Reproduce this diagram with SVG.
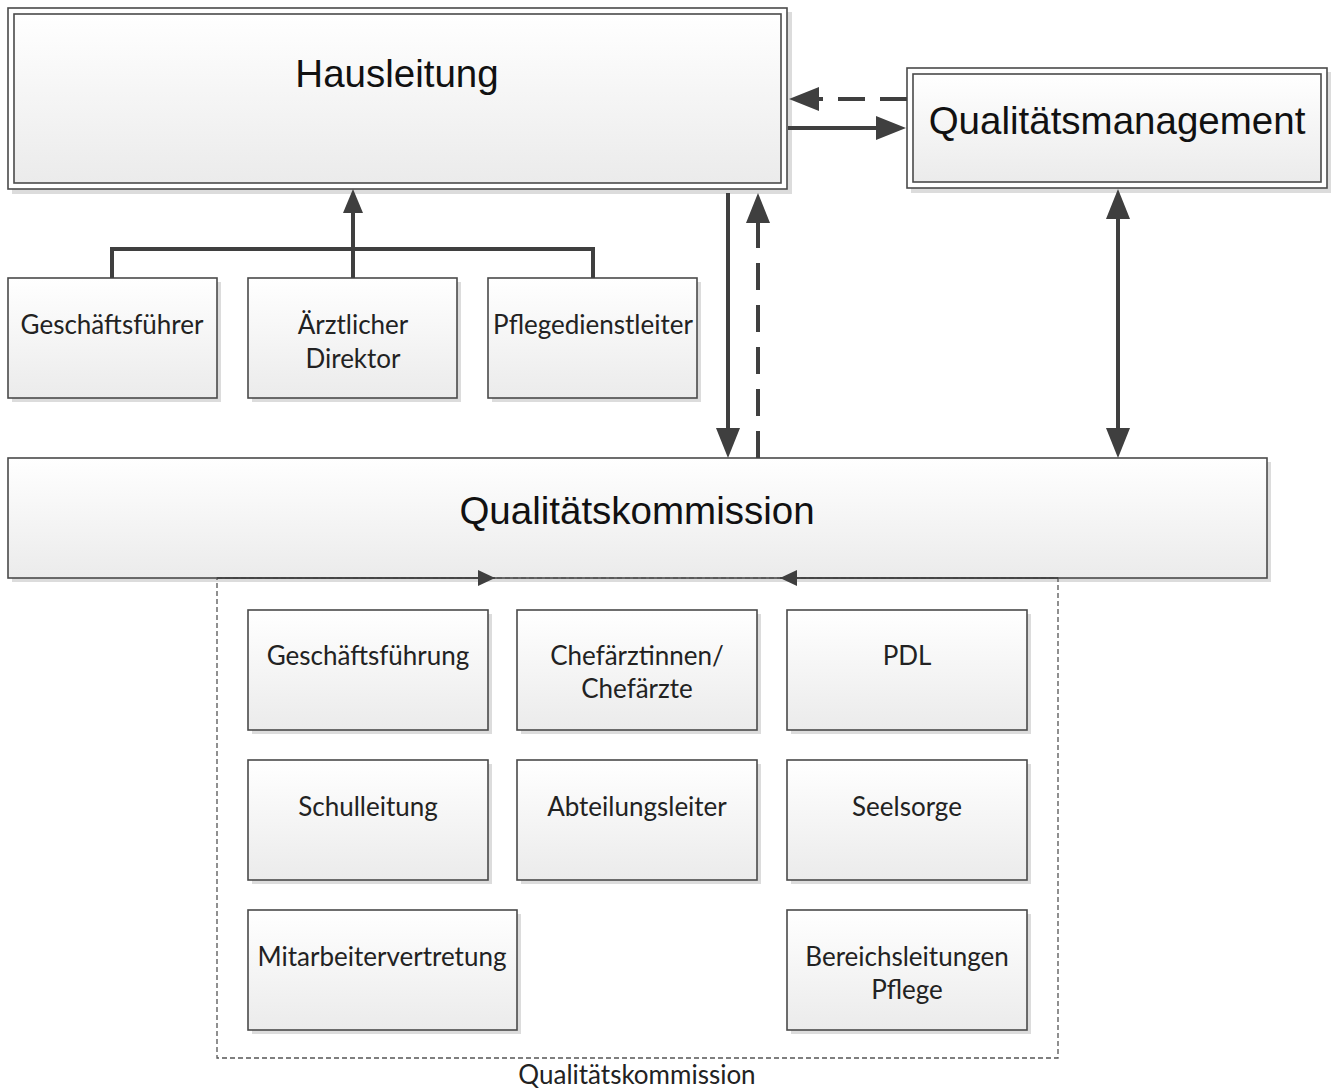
<svg xmlns="http://www.w3.org/2000/svg" width="1334" height="1091" viewBox="0 0 1334 1091">
<defs>
<linearGradient id="g" x1="0" y1="0" x2="0" y2="1">
<stop offset="0" stop-color="#ffffff"/>
<stop offset="1" stop-color="#ebebeb"/>
</linearGradient>
<marker id="ah" markerUnits="userSpaceOnUse" markerWidth="32" markerHeight="26" viewBox="0 0 32 26" refX="20" refY="13" orient="auto-start-reverse">
<path d="M0,1 L30,13 L0,25 z" fill="#3f3f3f"/>
</marker>
<marker id="ahm" markerUnits="userSpaceOnUse" markerWidth="26" markerHeight="22" viewBox="0 0 26 22" refX="14" refY="11" orient="auto">
<path d="M0,1 L24,11 L0,21 z" fill="#3f3f3f"/>
</marker>
<marker id="ahs" markerUnits="userSpaceOnUse" markerWidth="18" markerHeight="16" viewBox="0 0 18 16" refX="17" refY="8" orient="auto">
<path d="M0,0 L17,8 L0,16 z" fill="#3f3f3f"/>
</marker>
</defs>
<style>
.sh{fill:#dcdcdc;}
.bx{fill:url(#g);stroke:#4a4a4a;stroke-width:1.6;}
.out{fill:#ffffff;stroke:#4a4a4a;stroke-width:1.6;}
.big{font-family:"Liberation Sans",Arial,sans-serif;font-size:38.5px;fill:#111;text-anchor:middle;}
.sm{font-family:Lato,"Open Sans",sans-serif;font-size:26px;fill:#222;text-anchor:middle;}
.c{fill:none;stroke:#3f3f3f;stroke-width:4;}
.d{stroke-dasharray:27 15;}
.thin{fill:none;stroke:#3f3f3f;stroke-width:1.6;}
.grp{fill:none;stroke:#555;stroke-width:1.3;stroke-dasharray:5 3;}
</style>
<rect width="1334" height="1091" fill="#ffffff"/>

<g id="hausleitung">
<rect class="sh" x="12" y="12" width="780" height="182"/>
<rect class="out" x="8" y="8" width="779" height="181"/>
<rect class="bx" x="14" y="14" width="767" height="169"/>
<text class="big" x="397" y="87">Hausleitung</text>
</g>

<g id="qualitaetsmanagement">
<rect class="sh" x="911" y="72" width="420" height="121"/>
<rect class="out" x="907" y="68" width="420" height="120"/>
<rect class="bx" x="913" y="74" width="408" height="108"/>
<text class="big" x="1117" y="134">Qualitätsmanagement</text>
</g>

<g id="geschaeftsfuehrer">
<rect class="sh" x="12" y="282" width="209" height="120"/>
<rect class="bx" x="8" y="278" width="209" height="120"/>
<text class="sm" x="112" y="334">Geschäftsführer</text>
</g>
<g id="aerztlicher-direktor">
<rect class="sh" x="252" y="282" width="209" height="120"/>
<rect class="bx" x="248" y="278" width="209" height="120"/>
<text class="sm" x="353" y="334">Ärztlicher</text>
<text class="sm" x="353" y="368">Direktor</text>
</g>
<g id="pflegedienstleiter">
<rect class="sh" x="492" y="282" width="209" height="120"/>
<rect class="bx" x="488" y="278" width="209" height="120"/>
<text class="sm" x="593" y="334">Pflegedienstleiter</text>
</g>

<g id="qualitaetskommission">
<rect class="sh" x="12" y="462" width="1259" height="120"/>
<rect class="bx" x="8" y="458" width="1259" height="120"/>
<text class="big" x="637" y="524">Qualitätskommission</text>
</g>

<g id="qk-gruppe">
<rect class="grp" x="217" y="578" width="841" height="480"/>
<text class="sm" x="637" y="1084">Qualitätskommission</text>
</g>

<g id="geschaeftsfuehrung">
<rect class="sh" x="252" y="614" width="240" height="120"/>
<rect class="bx" x="248" y="610" width="240" height="120"/>
<text class="sm" x="368" y="665">Geschäftsführung</text>
</g>
<g id="chefaerzte">
<rect class="sh" x="521" y="614" width="240" height="120"/>
<rect class="bx" x="517" y="610" width="240" height="120"/>
<text class="sm" x="637" y="665">Chefärztinnen/</text>
<text class="sm" x="637" y="698">Chefärzte</text>
</g>
<g id="pdl">
<rect class="sh" x="791" y="614" width="240" height="120"/>
<rect class="bx" x="787" y="610" width="240" height="120"/>
<text class="sm" x="907" y="665">PDL</text>
</g>
<g id="schulleitung">
<rect class="sh" x="252" y="764" width="240" height="120"/>
<rect class="bx" x="248" y="760" width="240" height="120"/>
<text class="sm" x="368" y="816">Schulleitung</text>
</g>
<g id="abteilungsleiter">
<rect class="sh" x="521" y="764" width="240" height="120"/>
<rect class="bx" x="517" y="760" width="240" height="120"/>
<text class="sm" x="637" y="816">Abteilungsleiter</text>
</g>
<g id="seelsorge">
<rect class="sh" x="791" y="764" width="240" height="120"/>
<rect class="bx" x="787" y="760" width="240" height="120"/>
<text class="sm" x="907" y="816">Seelsorge</text>
</g>
<g id="mitarbeitervertretung">
<rect class="sh" x="252" y="914" width="269" height="120"/>
<rect class="bx" x="248" y="910" width="269" height="120"/>
<text class="sm" x="382" y="966">Mitarbeitervertretung</text>
</g>
<g id="bereichsleitungen">
<rect class="sh" x="791" y="914" width="240" height="120"/>
<rect class="bx" x="787" y="910" width="240" height="120"/>
<text class="sm" x="907" y="966">Bereichsleitungen</text>
<text class="sm" x="907" y="999">Pflege</text>
</g>

<g id="connectors">
<line class="c d" x1="907" y1="99" x2="799" y2="99" marker-end="url(#ah)"/>
<line class="c" x1="788" y1="128" x2="896" y2="128" marker-end="url(#ah)"/>
<line class="c" x1="728" y1="193" x2="728" y2="448" marker-end="url(#ah)"/>
<line class="c d" x1="758" y1="458" x2="758" y2="203" marker-end="url(#ah)"/>
<line class="c" x1="1118" y1="199" x2="1118" y2="448" marker-start="url(#ah)" marker-end="url(#ah)"/>
<path class="c" d="M112,278 V249 H593 V278"/>
<line class="c" x1="353" y1="278" x2="353" y2="199" marker-end="url(#ahm)"/>
<line class="thin" x1="217" y1="578" x2="495" y2="578" marker-end="url(#ahs)"/>
<line class="thin" x1="1058" y1="578" x2="780" y2="578" marker-end="url(#ahs)"/>
</g>
</svg>
